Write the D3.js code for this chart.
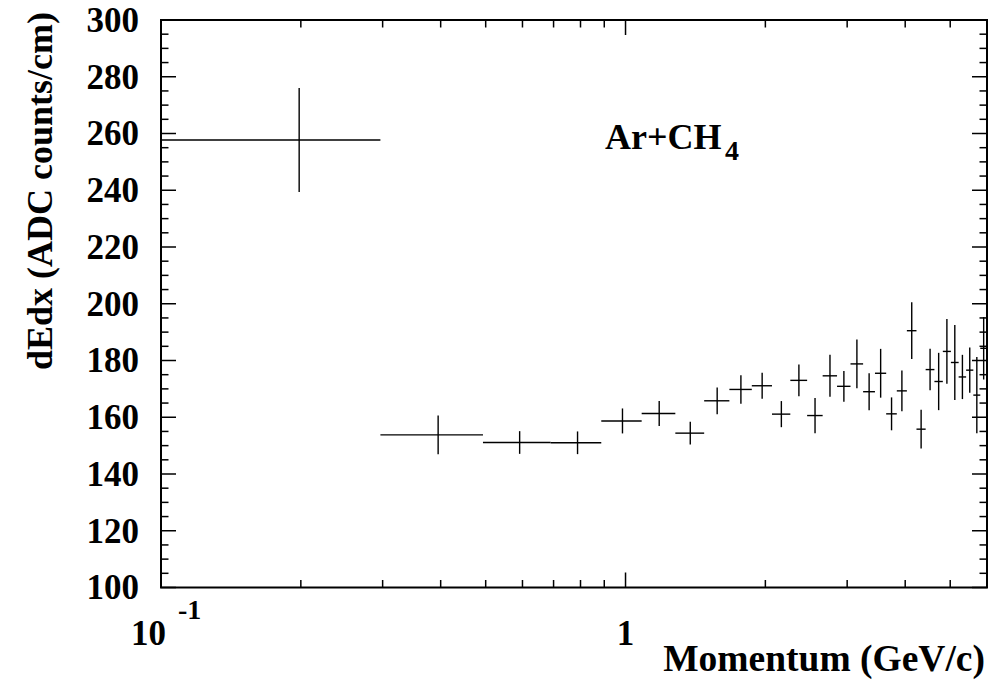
<!DOCTYPE html>
<html>
<head>
<meta charset="utf-8">
<script src="https://cdn.jsdelivr.net/npm/d3@7"></script>
<style>
  html, body { margin: 0; padding: 0; background: #fff; }
  svg { display: block; }
  text { font-family: "Liberation Serif", "Times New Roman", serif; font-weight: bold; fill: #000; }
</style>
</head>
<body>
<svg id="chart" width="1003" height="681"></svg>
<script>
// Momentum bin edges (GeV/c), 30 bins from 0.1 to 6.0
const binEdges = [0.1, 0.2967, 0.4933, 0.69, 0.8867, 1.0833, 1.28, 1.4767, 1.6733, 1.87,
  2.0667, 2.2633, 2.46, 2.6567, 2.8533, 3.05, 3.2467, 3.4433, 3.64, 3.8367,
  4.0333, 4.23, 4.4267, 4.6233, 4.82, 5.0167, 5.2133, 5.41, 5.6067, 5.8033, 6.0];

// Mean dE/dx per bin (ADC counts/cm)
const dedx = [257.7, 153.8, 151.1, 151.0, 158.7, 161.3, 154.4, 165.8, 169.8, 171.1,
  161.1, 173.0, 160.6, 174.6, 170.9, 178.8, 169.0, 175.5, 161.2, 169.3,
  190.5, 155.8, 176.8, 172.6, 183.2, 179.3, 174.2, 176.6, 167.8, 184.3];

// Statistical error per bin
const dedxErr = [18.3, 6.8, 4.0, 4.0, 4.4, 4.4, 4.0, 4.7, 5.0, 4.6,
  4.6, 5.6, 6.2, 7.4, 5.4, 8.6, 6.5, 8.6, 5.8, 7.2,
  10.0, 6.8, 7.3, 10.1, 11.4, 13.2, 7.8, 8.0, 13.4, 11.0];

const xMajorTicks = [1];
const xMinorTicks = [0.2, 0.3, 0.4, 0.5, 0.6, 0.7, 0.8, 0.9, 2, 3, 4, 5];
const yMajorTicks = [100, 120, 140, 160, 180, 200, 220, 240, 260, 280, 300];
const yMinorTicks = d3.range(100, 300.1, 5).filter(v => v % 20 !== 0);

const xTitle = "Momentum (GeV/c)";
const yTitle = "dEdx (ADC counts/cm)";
const gasLabel = "Ar+CH";
const gasSub = "4";

const svg = d3.select("#chart");
const L = 161, R = 987, T = 20, B = 587.5;

const x = d3.scaleLog().domain([0.1, 6]).range([L, R]);
const y = d3.scaleLinear().domain([100, 300]).range([B, T]);

const majLen = 15, minLen = 7.5;
const axisG = svg.append("g").attr("stroke", "#000").attr("stroke-width", 1.5).attr("fill", "none");

// frame
axisG.append("rect").attr("x", L).attr("y", T).attr("width", R - L).attr("height", B - T)
  .attr("stroke-width", 2);

// y ticks, left and right, pointing inward
[[yMajorTicks, majLen], [yMinorTicks, minLen]].forEach(([ticks, len]) => {
  ticks.forEach(v => {
    axisG.append("line").attr("x1", L).attr("x2", L + len).attr("y1", y(v)).attr("y2", y(v));
    axisG.append("line").attr("x1", R).attr("x2", R - len).attr("y1", y(v)).attr("y2", y(v));
  });
});

// x ticks, bottom and top, pointing inward
[[xMajorTicks, majLen], [xMinorTicks, minLen]].forEach(([ticks, len]) => {
  ticks.forEach(v => {
    axisG.append("line").attr("x1", x(v)).attr("x2", x(v)).attr("y1", B).attr("y2", B - len);
    axisG.append("line").attr("x1", x(v)).attr("x2", x(v)).attr("y1", T).attr("y2", T + len);
  });
});

// y tick labels
const fs = 35;
svg.append("g").selectAll("text").data(yMajorTicks).join("text")
  .attr("x", 139).attr("y", d => y(d)).attr("dy", "0.34em")
  .attr("text-anchor", "end").attr("font-size", fs).text(d => d);

// x tick labels: 10^-1 and 1
svg.append("text").attr("x", 166).attr("y", 645).attr("text-anchor", "end").attr("font-size", fs).text("10");
svg.append("text").attr("x", 178).attr("y", 619).attr("font-size", 28).text("-1");
svg.append("text").attr("x", x(1)).attr("y", 645).attr("text-anchor", "middle").attr("font-size", fs).text("1");

// axis titles
svg.append("text").attr("x", 985).attr("y", 671).attr("text-anchor", "end").attr("font-size", 37.5).text(xTitle);
svg.append("text").attr("transform", "translate(52,12) rotate(-90)")
  .attr("text-anchor", "end").attr("font-size", 36).text(yTitle);

// gas label
svg.append("text").attr("x", 605).attr("y", 149).attr("font-size", 36).text(gasLabel);
svg.append("text").attr("x", 725).attr("y", 160).attr("font-size", 28).text(gasSub);

// data: bin-width horizontal bars and vertical error bars
const bins = dedx.map((v, i) => ({
  lo: binEdges[i], hi: binEdges[i + 1], c: (binEdges[i] + binEdges[i + 1]) / 2, v, e: dedxErr[i]
}));
const dg = svg.append("g").attr("stroke", "#000").attr("stroke-width", 1.4);
dg.selectAll("line.h").data(bins).join("line").attr("class", "h")
  .attr("x1", d => x(d.lo)).attr("x2", d => x(d.hi)).attr("y1", d => y(d.v)).attr("y2", d => y(d.v));
dg.selectAll("line.v").data(bins).join("line").attr("class", "v")
  .attr("x1", d => x(d.c)).attr("x2", d => x(d.c)).attr("y1", d => y(d.v - d.e)).attr("y2", d => y(d.v + d.e));
</script>
</body>
</html>
